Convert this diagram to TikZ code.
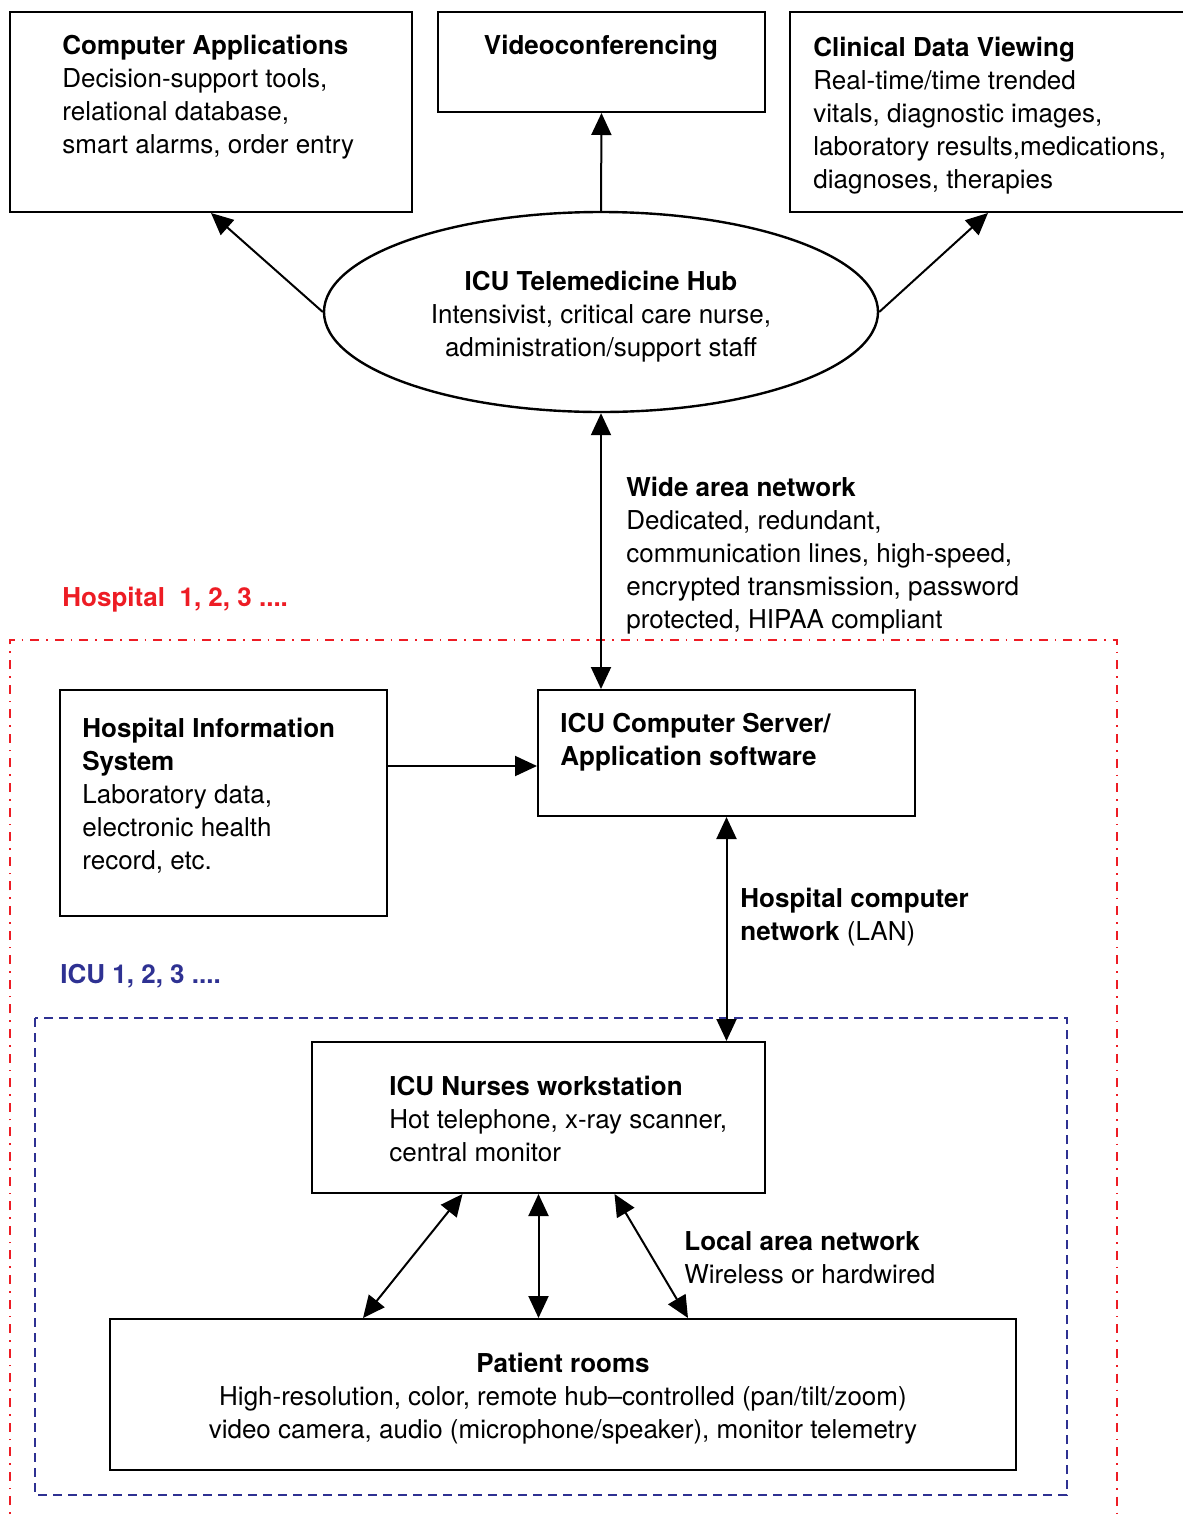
\documentclass[tikz,border=0pt]{standalone}
\usepackage{fontspec}
\setmainfont{TeX Gyre Heros}
\usetikzlibrary{arrows.meta,shapes.geometric,fit,calc}

\definecolor{hosred}{RGB}{237,28,36}
\definecolor{icublue}{RGB}{46,49,146}

\begin{document}
\begin{tikzpicture}[x=0.5pt,y=-0.5pt,
    box/.style={draw,line width=1pt,inner sep=0pt},
    txt/.style={align=left,inner sep=0pt,font=\fontsize{13}{16.5}\selectfont},
    tip/.tip={Triangle[length=11pt,width=10pt]},
    link/.style={line width=1pt,-tip},
    dlink/.style={line width=1pt,tip-tip}]

  \useasboundingbox (0,0) rectangle (1183,1516);
  \clip (0,0) rectangle (1183,1516);

  % hospital and ICU frames
  \draw[hosred,line width=1pt,dash pattern=on 4.5pt off 3.5pt on 0.8pt off 3.5pt]
    (10,1530) -- (10,640) -- (1117,640) -- (1117,1530);
  \draw[icublue,line width=1pt,dash pattern=on 4.5pt off 3pt]
    (35,1018) rectangle (1067,1495);

  \node[txt,anchor=north west,text=hosred,font=\fontsize{13}{16.5}\selectfont\bfseries]
    (hosplabel) at (62,587) {Hospital\ \ 1, 2, 3 ....};
  \node[txt,anchor=north west,text=icublue,font=\fontsize{13}{16.5}\selectfont\bfseries]
    (iculabel) at (60,964) {ICU 1, 2, 3 ....};

  % top row
  \node[box,fit={(10,12)(412,212)}] (capp) {};
  \node[txt,anchor=north west] (capptext) at (62,35)
    {\textbf{Computer Applications}\\Decision-support tools,\\relational database,\\smart alarms, order entry};

  \node[box,fit={(438,12)(765,112)}] (video) {};
  \node[txt,anchor=north] (videotext) at (601,35) {\textbf{Videoconferencing}};

  \node[box,fit={(790,12)(1186,212)}] (clin) {};
  \node[txt,anchor=north west] (clintext) at (813,37)
    {\textbf{Clinical Data Viewing}\\Real-time/time trended\\vitals, diagnostic images,\\laboratory results,medications,\\diagnoses, therapies};

  \node[draw,ellipse,line width=1.2pt,minimum width=277pt,minimum height=100pt,inner sep=0pt]
    (hub) at (601,312) {};
  \node[txt,align=center] (hubtext) at (601,317)
    {\textbf{ICU Telemedicine Hub}\\Intensivist, critical care nurse,\\administration/support staff};

  \draw[link] (hub.west) -- (capp.south);
  \draw[link] (hub.north) -- (video.south);
  \draw[link] (hub.east) -- (clin.south);

  % hospital level
  \node[box,fit={(60,690)(387,916)}] (his) {};
  \node[txt,anchor=north west] (histext) at (82,718)
    {\textbf{Hospital Information}\\\textbf{System}\\Laboratory data,\\electronic health\\record, etc.};

  \node[box,fit={(538,690)(915,816)}] (server) {};
  \node[txt,anchor=north west] (servertext) at (560,713)
    {\textbf{ICU Computer Server/}\\\textbf{Application software}};

  \draw[dlink] (hub.south) -- (hub.south |- server.north);
  \node[txt,anchor=north west] (wan) at (626,477)
    {\textbf{Wide area network}\\Dedicated, redundant,\\communication lines, high-speed,\\encrypted transmission, password\\protected, HIPAA compliant};

  \draw[link] (his.east |- 0,766) -- (server.west |- 0,766);

  % ICU level
  \node[box,fit={(312,1042)(765,1193)}] (nurses) {};
  \node[txt,anchor=north west] (nursestext) at (389,1076)
    {\textbf{ICU Nurses workstation}\\Hot telephone, x-ray scanner,\\central monitor};

  \draw[dlink] (server.south) -- (server.south |- nurses.north);
  \node[txt,anchor=north west] (lan) at (740,888)
    {\textbf{Hospital computer}\\\textbf{network} (LAN)};

  \node[box,fit={(110,1319)(1016,1470)}] (rooms) {};
  \node[txt,align=center] (roomstext) at (563,1399)
    {\textbf{Patient rooms}\\High-resolution, color, remote hub--controlled (pan/tilt/zoom)\\video camera, audio (microphone/speaker), monitor telemetry};

  \draw[dlink] ($(nurses.south)+(-76,0)$) -- ($(rooms.north)+(-200,0)$);
  \draw[dlink] (nurses.south) -- (nurses.south |- rooms.north);
  \draw[dlink] ($(nurses.south)+(76,0)$) -- ($(rooms.north)+(125,0)$);

  \node[txt,anchor=north west] (lanlocal) at (684,1231)
    {\textbf{Local area network}\\Wireless or hardwired};

\end{tikzpicture}
\end{document}
